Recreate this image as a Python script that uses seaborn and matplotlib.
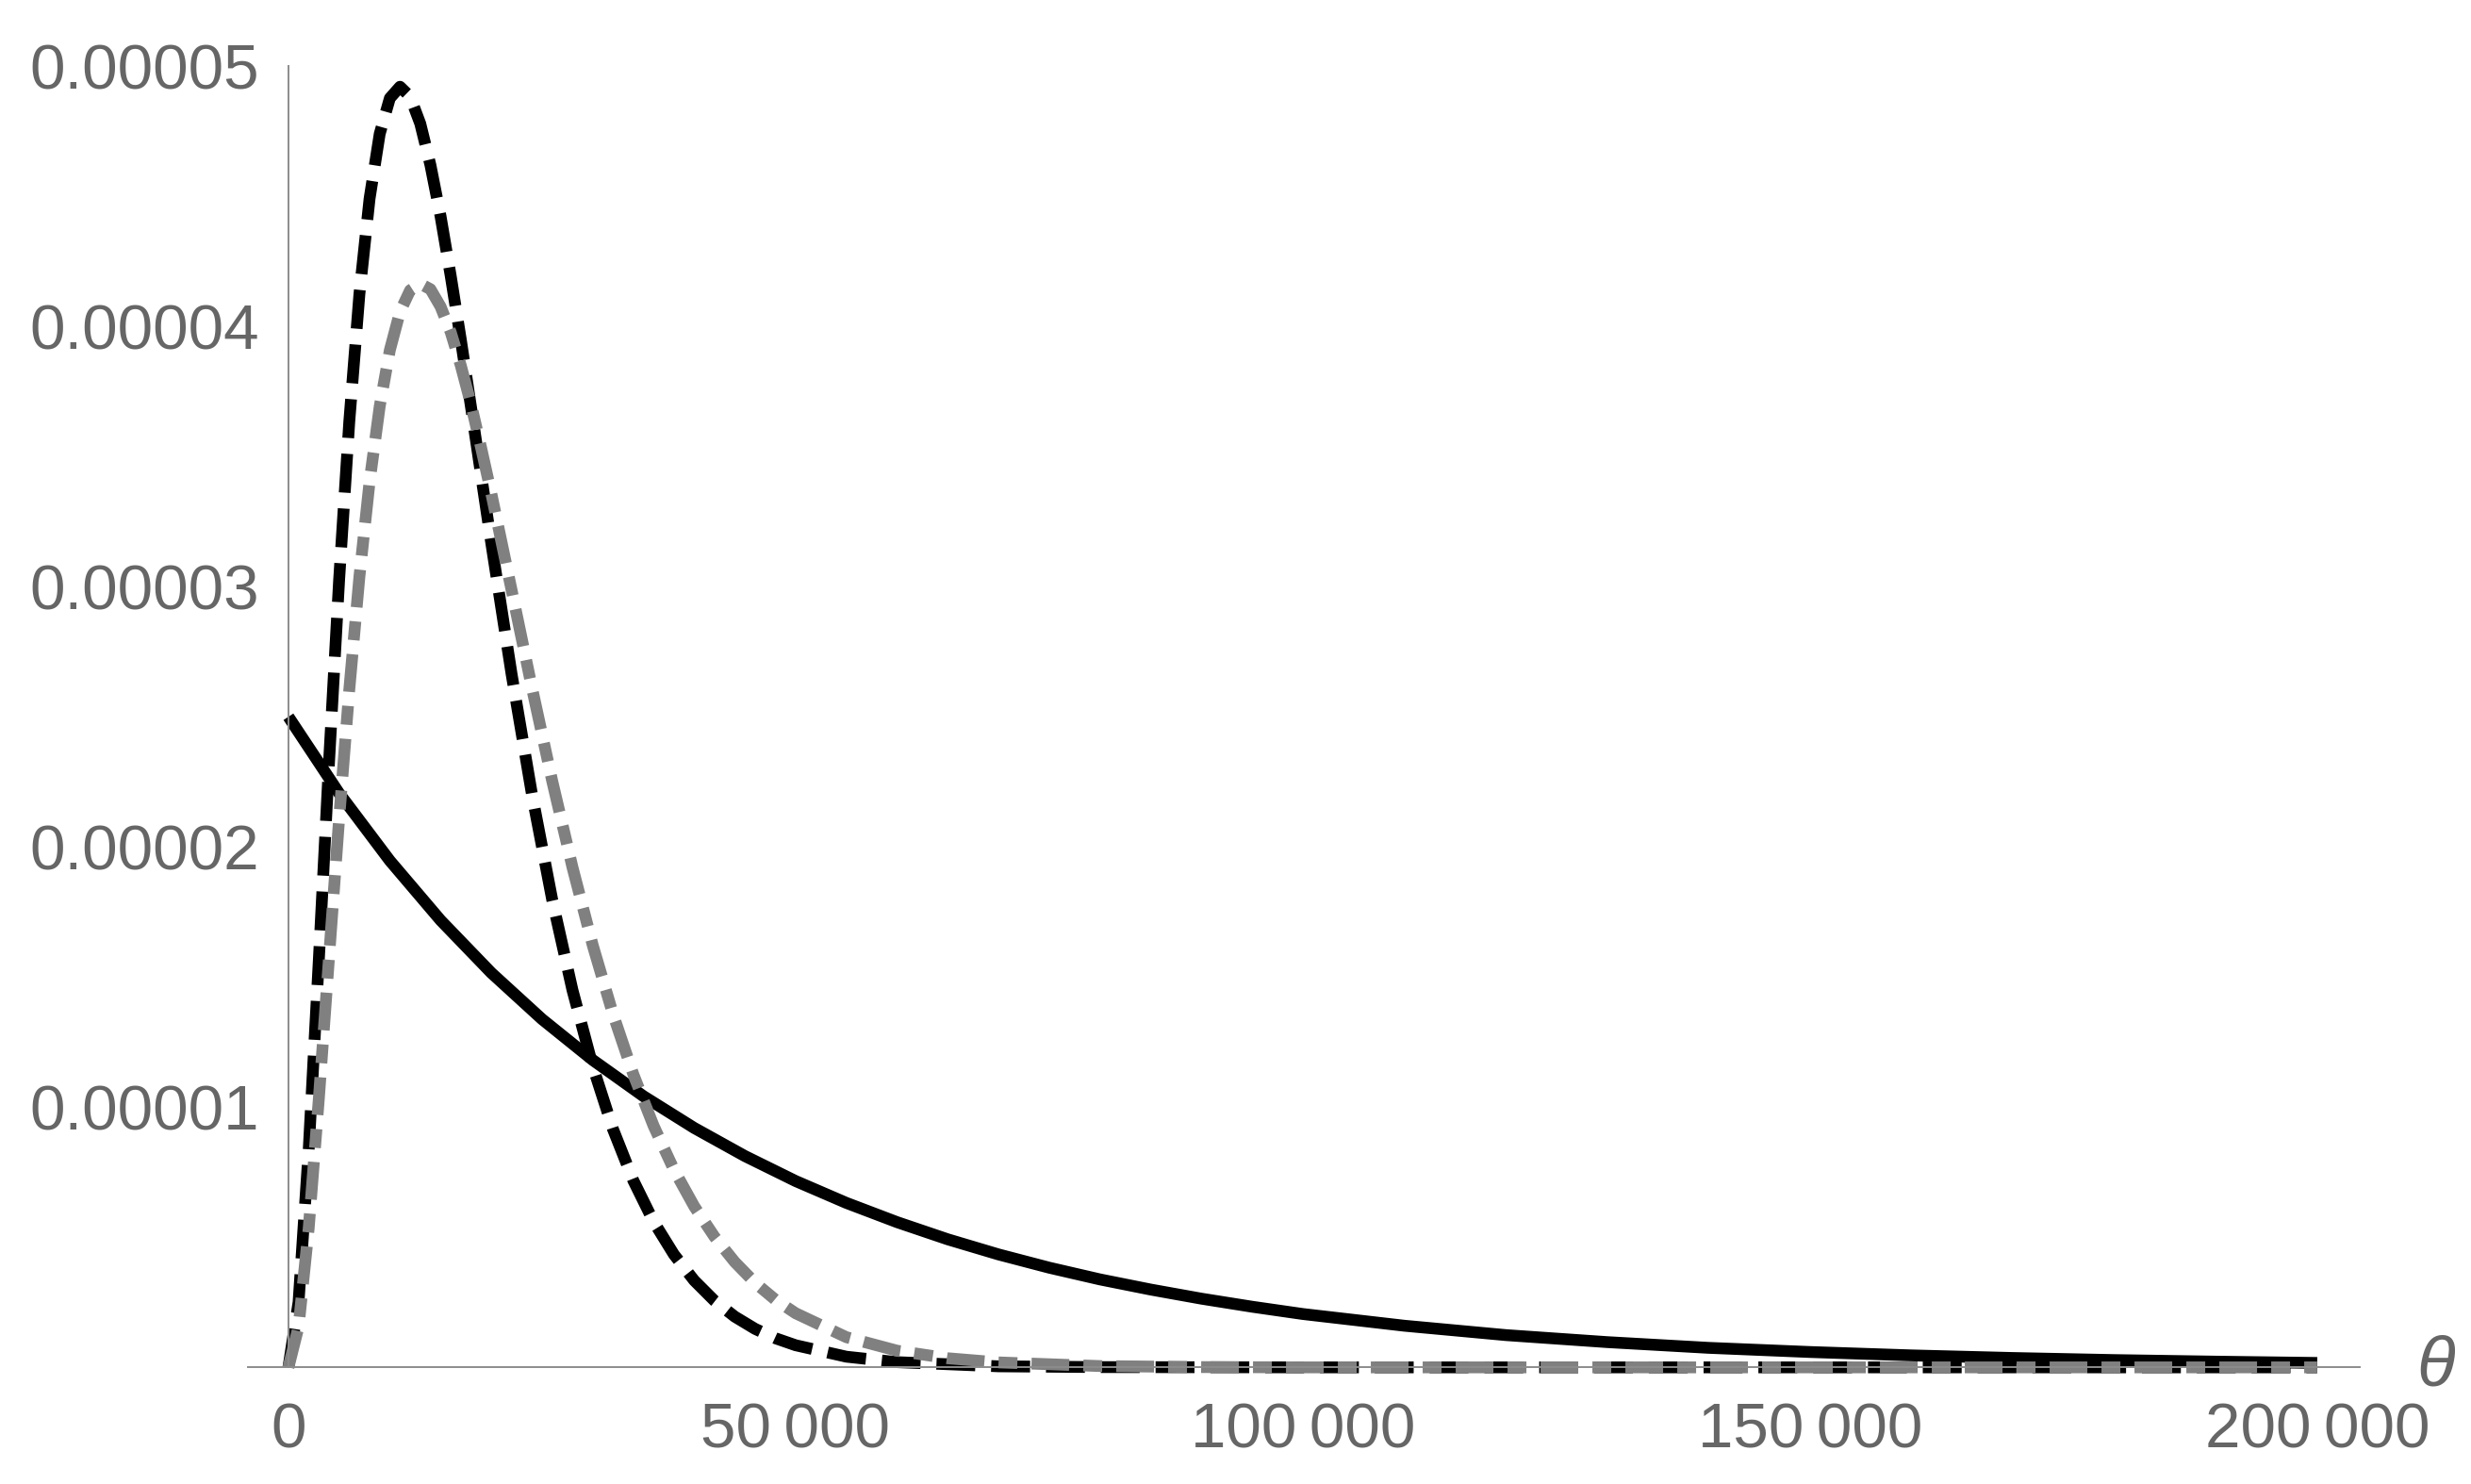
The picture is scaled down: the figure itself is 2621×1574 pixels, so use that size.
import numpy as np
import pandas as pd
import seaborn as sns
import matplotlib.pyplot as plt
from matplotlib.ticker import FixedLocator, FixedFormatter, MultipleLocator

# values (theta in units of 1000, density in units of 1e-5)
solid_theta = [0, 5, 10, 15, 20, 25, 30, 35, 40, 45, 50, 55, 60, 65, 70, 75, 80, 85, 90, 95,
               100, 110, 120, 130, 140, 150, 160, 170, 180, 190, 200]
solid_dens = [2.500, 2.206, 1.947, 1.718, 1.516, 1.338, 1.181, 1.042, 0.920, 0.812, 0.716,
              0.632, 0.558, 0.492, 0.434, 0.383, 0.338, 0.299, 0.264, 0.233, 0.205, 0.160,
              0.124, 0.097, 0.075, 0.059, 0.046, 0.036, 0.028, 0.022, 0.017]

dashed_theta = [0, 1, 2, 3, 4, 5, 6, 7, 8, 9, 10, 11, 12, 13, 14, 15, 16, 17, 18, 19, 20, 22,
                24, 26, 28, 30, 32, 34, 36, 38, 40, 42, 44, 46, 48, 50, 55, 60, 70, 80, 100,
                150, 200]
dashed_dens = [0.0, 0.251, 0.836, 1.567, 2.323, 3.027, 3.634, 4.125, 4.491, 4.740, 4.877,
               4.921, 4.883, 4.779, 4.620, 4.423, 4.194, 3.948, 3.690, 3.428, 3.167, 2.664,
               2.204, 1.798, 1.450, 1.157, 0.915, 0.718, 0.560, 0.434, 0.334, 0.256, 0.195,
               0.148, 0.112, 0.085, 0.041, 0.020, 0.004, 0.001, 0.0, 0.0, 0.0]

dashdot_theta = [0, 1, 2, 3, 4, 5, 6, 7, 8, 9, 10, 11, 12, 13, 14, 15, 16, 17, 18, 19, 20, 22,
                 24, 26, 28, 30, 32, 34, 36, 38, 40, 42, 44, 46, 48, 50, 55, 60, 65, 70, 80,
                 90, 100, 150, 200]
dashdot_dens = [0.0, 0.156, 0.535, 1.033, 1.574, 2.109, 2.604, 3.039, 3.403, 3.693, 3.909,
                4.056, 4.139, 4.164, 4.143, 4.076, 3.978, 3.849, 3.701, 3.533, 3.358, 2.987,
                2.613, 2.254, 1.922, 1.622, 1.357, 1.126, 0.928, 0.760, 0.619, 0.502, 0.405,
                0.325, 0.260, 0.208, 0.116, 0.064, 0.035, 0.019, 0.005, 0.001, 0.0, 0.0, 0.0]

xtick_vals = [0, 50000, 100000, 150000, 200000]
xtick_labels = ['0', '50\u2009000', '100\u2009000', '150\u2009000', '200\u2009000']
ytick_vals = [1e-5, 2e-5, 3e-5, 4e-5, 5e-5]
ytick_labels = ['0.00001', '0.00002', '0.00003', '0.00004', '0.00005']

sns.set_style("white")
plt.rcParams['font.family'] = ['Liberation Sans', 'DejaVu Sans']

axis_col = '#8c8c8c'
label_col = '#666666'

fig = plt.figure(figsize=(26.21, 15.74), dpi=100)
ax = fig.add_axes([0.1003, 0.0786, 0.8547, 0.8768])

df_solid = pd.DataFrame({'theta': np.array(solid_theta) * 1000.0, 'dens': np.array(solid_dens) * 1e-5})
df_dash = pd.DataFrame({'theta': np.array(dashed_theta) * 1000.0, 'dens': np.array(dashed_dens) * 1e-5})
df_dd = pd.DataFrame({'theta': np.array(dashdot_theta) * 1000.0, 'dens': np.array(dashdot_dens) * 1e-5})

lw = 9
sns.lineplot(data=df_solid, x='theta', y='dens', ax=ax, color='black', linewidth=lw)
sns.lineplot(data=df_dash, x='theta', y='dens', ax=ax, color='black', linewidth=lw)
ax.lines[-1].set_dashes((3.3, 1.35))
sns.lineplot(data=df_dd, x='theta', y='dens', ax=ax, color='#808080', linewidth=lw)
ax.lines[-1].set_dashes((3.2, 1.2, 1.6, 1.2))
for ln in ax.lines:
    ln.set_clip_on(False)
    ln.set_solid_capstyle('butt')

ax.set_xlim(-4000, 204200)
ax.set_ylim(0, 5e-5)

# Mathematica style axes crossing at origin
for s in ['top', 'right']:
    ax.spines[s].set_visible(False)
ax.spines['left'].set_position(('data', 0))
for s in ['left', 'bottom']:
    ax.spines[s].set_color(axis_col)
    ax.spines[s].set_linewidth(1.4)

ax.xaxis.set_major_locator(FixedLocator(xtick_vals))
ax.xaxis.set_major_formatter(FixedFormatter(xtick_labels))
ax.xaxis.set_minor_locator(MultipleLocator(10000))
ax.yaxis.set_major_locator(FixedLocator(ytick_vals))
ax.yaxis.set_major_formatter(FixedFormatter(ytick_labels))
ax.yaxis.set_minor_locator(MultipleLocator(2e-6))

ax.tick_params(which='both', direction='in', color=axis_col, width=1.1, labelcolor=label_col,
               labelsize=48.5)
ax.tick_params(which='major', length=10)
ax.tick_params(which='minor', length=6)
ax.tick_params(axis='x', pad=27)
ax.tick_params(axis='y', pad=22)

ax.set_xlabel('')
ax.set_ylabel('')
ax.annotate('\u03b8', xy=(1, 0), xycoords=('axes fraction', 'data'), xytext=(58, 0),
            textcoords='offset points', ha='center', va='center', fontsize=54,
            style='italic', color=label_col, annotation_clip=False)

plt.savefig('out.png', dpi=100)
